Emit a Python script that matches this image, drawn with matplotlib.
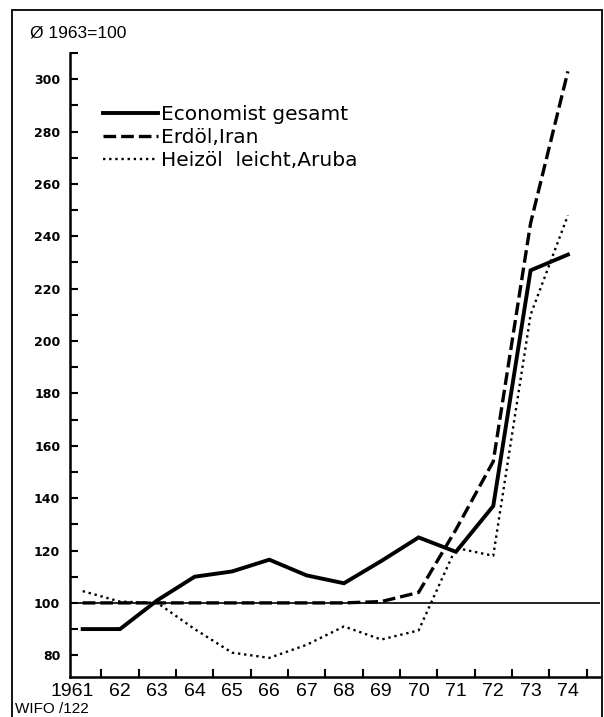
import numpy as np
import matplotlib
matplotlib.use("Agg")
import matplotlib.pyplot as plt
import matplotlib.transforms as mtransforms
from matplotlib.patches import Rectangle

# === Data (Ø 1963 = 100) ===
years = [1961, 1962, 1963, 1964, 1965, 1966, 1967, 1968, 1969, 1970, 1971, 1972, 1973, 1974]
year_labels = ["1961", "62", "63", "64", "65", "66", "67", "68", "69", "70", "71", "72", "73", "74"]
economist = [90, 90, 101, 110, 112, 116.5, 110.5, 107.5, 116, 125, 119.5, 137, 227, 233]
erdoel_iran = [100, 100, 100, 100, 100, 100, 100, 100, 100.5, 104, 128, 154, 245, 303]
heizoel_aruba = [104.5, 100.5, 100, 90, 81, 79, 84, 91, 86, 89.5, 121, 118, 210, 248]
series_names = ["Economist gesamt", "Erdöl,Iran", "Heizöl  leicht,Aruba"]

sans = ["Liberation Sans", "DejaVu Sans"]

fig = plt.figure(figsize=(6.04, 7.17), dpi=100)
ax = fig.add_axes([70 / 604, 40 / 717, 530 / 604, 624 / 717])

ax.axhline(100, color="black", lw=1.2, zorder=1)
ax.plot(years, economist, color="black", lw=2.8, solid_joinstyle="miter",
        label=series_names[0], zorder=3)
ax.plot(years, erdoel_iran, color="black", lw=2.4, linestyle=(0, (3.8, 1.5)),
        label=series_names[1], zorder=3)
ax.plot(years, heizoel_aruba, color="black", lw=1.7, linestyle=(0, (1, 1.6)),
        label=series_names[2], zorder=3)

ax.set_xlim(1960.66, 1974.86)
ax.set_ylim(71.7, 310)

# axes: only left and bottom
for s in ["top", "right"]:
    ax.spines[s].set_visible(False)
for s in ["left", "bottom"]:
    ax.spines[s].set_linewidth(1.8)

# y ticks
ax.set_yticks(np.arange(80, 301, 20))
ax.set_yticks(np.arange(90, 311, 20), minor=True)
ax.tick_params(axis="y", which="both", direction="in", length=6, width=1.5, pad=7)
for lbl in ax.get_yticklabels():
    lbl.set_fontweight("bold")
    lbl.set_fontsize(9)

# x ticks: labels at years, marks between years
ax.set_xticks(years)
ax.set_xticklabels(year_labels, family=sans, fontsize=14)
ax.set_xticks(np.arange(1961.5, 1975, 1.0), minor=True)
ax.tick_params(axis="x", which="major", length=0, pad=4)
ax.tick_params(axis="x", which="minor", direction="in", length=6, width=1.5)
first = ax.xaxis.get_major_ticks()[0].label1
first.set_transform(first.get_transform() +
                    mtransforms.ScaledTranslation(-11 / 100, 0, fig.dpi_scale_trans))

ax.legend(loc="upper left", bbox_to_anchor=(0.062, 0.916), frameon=False,
          borderpad=0, borderaxespad=0, handlelength=2.75, handletextpad=0.12,
          labelspacing=0.2, prop={"family": "DejaVu Sans", "size": 14.5})

fig.text(30 / 604, 1 - 33 / 717, "Ø 1963=100", fontsize=12.5, va="center",
         family=sans)
fig.text(15 / 604, 1 - 709 / 717, "WIFO /122", fontsize=11, va="center",
         family=sans)

# frame around the picture
fig.add_artist(Rectangle((12 / 604, -0.02), 590 / 604, 1.02 - 10 / 717,
                         transform=fig.transFigure, fill=False, lw=1.3, color="black"))

fig.savefig("out.png", dpi=100)
